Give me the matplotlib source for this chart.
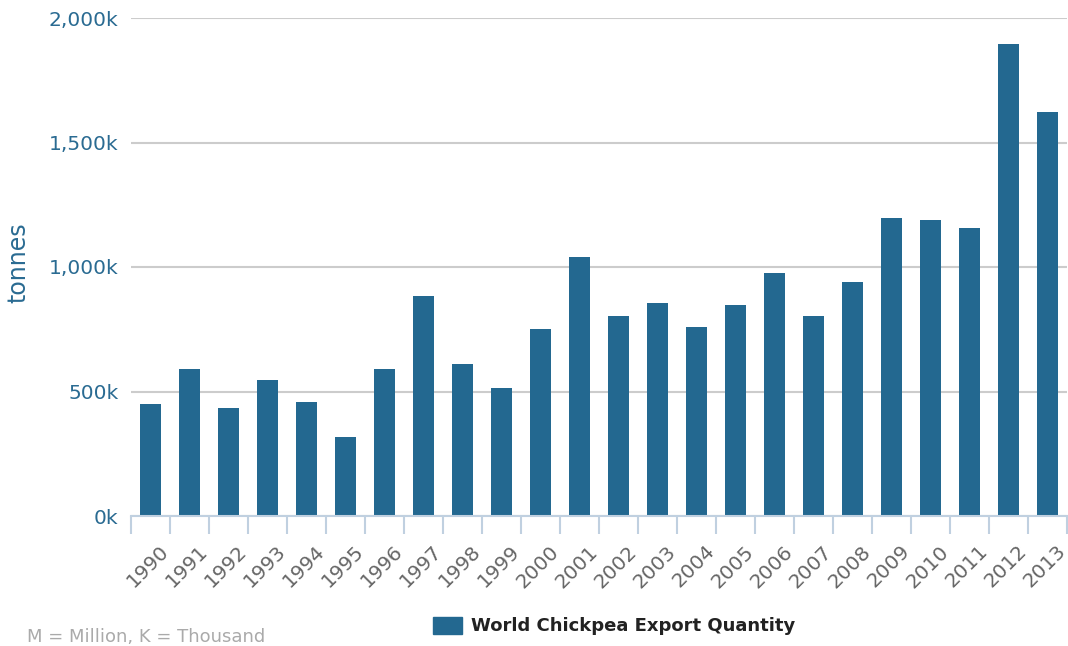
import numpy as np
import matplotlib.pyplot as plt
from matplotlib.patches import Patch
from matplotlib.ticker import FuncFormatter
import matplotlib.transforms as mtransforms

# world chickpea exports, thousand tonnes
years = [str(y) for y in range(1990, 2014)]
export_k = [451, 591, 435, 547, 459, 318, 591, 884, 612, 515,
            751, 1042, 805, 857, 761, 849, 974, 805, 938, 1197,
            1189, 1157, 1896, 1622]

bar_color = '#236890'
axis_blue = '#2a6b92'

fig = plt.figure(figsize=(10.68, 6.46), dpi=100)
ax = fig.add_axes([131 / 1068, 1 - 516 / 646, 936 / 1068, 498 / 646])

x = np.arange(len(years))
ax.bar(x, export_k, width=0.54, color=bar_color, zorder=3)

ax.set_xlim(-0.5, len(years) - 0.5)
ax.set_ylim(0, 2000)
ax.set_yticks([0, 500, 1000, 1500, 2000])
ax.yaxis.set_major_formatter(FuncFormatter(lambda v, p: '{:,.0f}k'.format(v)))
ax.grid(axis='y', color='#cccccc', linewidth=1.5, zorder=0)
ax.tick_params(axis='y', length=0, pad=9, labelsize=14.5, labelcolor=axis_blue)

for side in ['top', 'right', 'left']:
    ax.spines[side].set_visible(False)
ax.spines['bottom'].set_color('#c0d0e0')
ax.spines['bottom'].set_linewidth(1.5)
ax.spines['bottom'].set_zorder(4)

# category labels, with tick marks between categories
ax.set_xticks(x)
ax.set_xticklabels(years, rotation=45, ha='right', rotation_mode='anchor',
                   fontsize=14.4, color='#666666')
ax.tick_params(axis='x', which='major', length=0, pad=18.5)
ax.set_xticks(np.arange(len(years) + 1) - 0.5, minor=True)
ax.tick_params(axis='x', which='minor', length=13, width=1.5, color='#c0d0e0')
offset = mtransforms.ScaledTranslation(9 / 100, 0, fig.dpi_scale_trans)
for lbl in ax.get_xticklabels():
    lbl.set_transform(lbl.get_transform() + offset)

fig.text(18 / 1068, 1 - 263 / 646, 'tonnes', rotation=90, ha='center',
         va='center', fontsize=17, color=axis_blue)

leg = fig.legend(handles=[Patch(color=bar_color, label='World Chickpea Export Quantity')],
                 loc='center', bbox_to_anchor=(614 / 1068, 1 - 626 / 646),
                 frameon=False, handlelength=1.6, handleheight=1.1, handletextpad=0.5,
                 prop={'weight': 'bold', 'size': 13})
for t in leg.get_texts():
    t.set_color('#222222')

fig.text(27 / 1068, 1 - 637 / 646, 'M = Million, K = Thousand', ha='left',
         va='center', fontsize=13, color='#aaaaaa')

fig.savefig('out.png', dpi=100)
